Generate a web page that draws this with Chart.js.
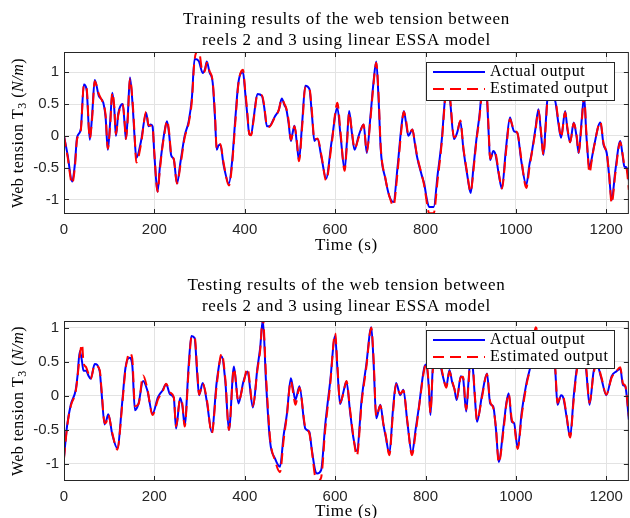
<!DOCTYPE html>
<html>
<head>
<meta charset="utf-8">
<script src="https://cdn.jsdelivr.net/npm/chart.js@4/dist/chart.umd.min.js"></script>
<style>
  body { margin: 0; background: #fff; }
  .panel { position: absolute; left: 0; }
</style>
</head>
<body>
<canvas id="trainChart" class="panel" width="630" height="259" style="top:0"></canvas>
<canvas id="testChart" class="panel" width="630" height="259" style="top:259px"></canvas>
<script>
// Training run: time (s), measured tension and model estimate
var trainTime = [0,8,18,24,29,37,44,50,57,62,68,77,87,92,97,102,107,111,115,120,125,130,134,137,141,146,152,156,160,170,182,187,192,196,200,207,212,217,222,228,233,237,243,250,258,267,276,283,289,298,307,312,316,322,329,334,338,342,346,353,365,372,379,386,396,401,406,410,414,420,428,438,443,449,454,467,475,482,488,492,497,502,506,510,515,520,527,534,543,549,554,558,561,570,580,592,605,612,621,626,631,637,643,652,663,670,678,685,691,696,701,711,720,729,738,746,752,757,762,771,776,781,792,797,803,808,818,827,836,842,847,854,863,870,877,884,892,900,906,913,919,925,931,936,940,943,950,955,962,969,978,987,992,996,1003,1012,1023,1030,1035,1043,1050,1056,1061,1066,1070,1078,1087,1094,1100,1109,1114,1120,1128,1134,1139,1145,1151,1156,1163,1168,1173,1187,1194,1201,1206,1212,1220,1231,1236,1240,1245,1250];
var trainActual = [0.00,-0.30,-0.72,-0.45,-0.02,0.10,0.81,0.73,-0.06,0.30,0.88,0.63,0.52,0.30,-0.22,0.20,0.68,0.45,0.00,0.35,0.47,0.50,0.20,-0.05,0.30,0.92,0.47,0.00,-0.35,-0.10,0.36,0.15,0.18,0.15,-0.30,-0.88,-0.50,-0.20,0.05,0.23,0.00,-0.30,-0.37,-0.75,-0.40,0.00,0.23,0.60,1.21,1.18,0.99,1.05,1.17,1.00,0.84,0.30,-0.22,-0.15,-0.14,-0.45,-0.75,-0.40,0.26,0.84,1.00,0.68,0.30,0.02,0.02,0.30,0.66,0.63,0.45,0.15,0.15,0.31,0.40,0.59,0.48,0.42,0.20,-0.08,0.05,0.16,-0.10,-0.38,0.20,0.79,0.74,0.30,-0.08,-0.05,-0.05,-0.35,-0.67,-0.10,0.44,0.00,-0.53,-0.10,0.39,0.05,-0.22,0.00,0.18,-0.27,0.30,0.85,1.17,0.60,-0.22,-0.67,-0.95,-1.04,-0.50,0.10,0.39,0.20,0.00,0.10,-0.10,-0.32,-0.63,-0.75,-1.00,-1.12,-1.12,-0.60,-0.06,0.50,0.84,0.58,-0.05,0.05,0.23,-0.22,-0.60,-0.90,-0.50,-0.03,0.30,0.70,0.75,0.58,0.00,-0.38,-0.24,-0.30,-0.60,-0.83,-0.20,0.29,0.15,0.07,0.05,-0.40,-0.77,-0.45,-0.27,0.10,0.42,0.00,-0.30,0.20,0.58,0.62,0.55,0.20,-0.03,0.39,0.10,-0.10,0.21,0.00,-0.27,0.20,0.62,0.00,-0.50,-0.35,-0.16,0.21,-0.14,-0.27,-0.60,-1.01,-0.55,-0.08,-0.30,-0.48,-0.50,-0.70];
var trainEstimated = [0.00,-0.33,-0.75,-0.50,-0.05,0.08,0.80,0.75,-0.04,0.25,0.86,0.66,0.50,0.33,-0.20,0.15,0.68,0.48,0.03,0.32,0.45,0.50,0.24,-0.05,0.25,0.90,0.52,0.05,-0.42,-0.15,0.38,0.17,0.16,0.14,-0.28,-0.88,-0.55,-0.22,0.02,0.24,0.04,-0.28,-0.37,-0.75,-0.45,-0.03,0.20,0.55,1.20,1.35,1.00,1.03,1.15,1.02,0.86,0.35,-0.20,-0.16,-0.13,-0.42,-0.78,-0.45,0.20,0.82,1.04,0.72,0.34,0.03,0.01,0.27,0.64,0.64,0.48,0.16,0.14,0.30,0.40,0.58,0.50,0.43,0.24,-0.06,0.03,0.15,-0.06,-0.40,0.14,0.77,0.75,0.35,-0.06,-0.05,-0.04,-0.32,-0.70,-0.15,0.52,0.05,-0.55,-0.15,0.36,0.08,-0.20,-0.03,0.18,-0.25,0.25,0.82,1.15,0.66,-0.18,-0.66,-0.95,-1.10,-0.58,0.05,0.38,0.24,0.02,0.10,-0.08,-0.30,-0.62,-0.78,-1.05,-1.22,-1.22,-0.68,-0.10,0.46,0.84,0.62,-0.02,0.04,0.24,-0.20,-0.58,-0.88,-0.55,-0.06,0.26,0.68,0.78,0.62,0.05,-0.36,-0.26,-0.28,-0.58,-0.83,-0.26,0.26,0.17,0.08,0.05,-0.36,-0.82,-0.50,-0.28,0.06,0.40,0.04,-0.30,0.15,0.56,0.63,0.57,0.24,-0.02,0.37,0.13,-0.10,0.20,0.03,-0.26,0.15,0.62,0.05,-0.58,-0.38,-0.17,0.22,-0.12,-0.27,-0.58,-1.06,-0.60,-0.10,-0.28,-0.46,-0.52,-0.85];

// Test run
var testTime = [0,7,15,26,30,35,40,43,49,54,59,68,79,83,90,94,98,107,118,129,136,145,151,157,165,175,184,196,208,218,226,235,243,248,257,262,267,276,282,289,295,299,307,316,327,338,349,357,365,376,386,397,406,418,428,434,440,447,456,467,478,486,493,502,507,512,521,534,543,548,556,560,569,578,589,600,605,611,618,625,633,640,648,659,669,680,685,691,700,707,712,720,728,735,744,751,760,770,778,785,797,802,807,811,816,822,830,838,846,853,859,864,869,878,883,890,895,899,904,909,914,925,936,943,950,956,962,973,979,984,991,996,1004,1013,1024,1033,1044,1052,1060,1070,1078,1087,1092,1100,1105,1112,1120,1128,1135,1145,1155,1163,1172,1179,1189,1200,1212,1222,1231,1237,1242,1250];
var testActual = [-0.90,-0.43,-0.13,0.09,0.30,0.66,0.50,0.37,0.37,0.30,0.25,0.47,0.36,0.06,-0.42,-0.35,-0.27,-0.57,-0.77,-0.08,0.41,0.56,0.46,-0.21,-0.11,0.22,0.09,-0.26,-0.02,0.08,0.17,0.02,-0.03,-0.48,-0.03,-0.15,-0.43,0.46,0.88,0.85,0.30,0.01,0.19,-0.08,-0.53,0.21,0.58,0.21,-0.50,0.43,-0.11,0.21,0.36,-0.17,0.41,0.70,1.12,0.21,-0.67,-0.92,-1.04,-0.58,-0.28,0.26,0.10,-0.06,0.14,-0.48,-0.53,-0.77,-1.10,-1.14,-1.09,-0.43,0.21,0.88,0.40,-0.12,0.05,0.21,-0.23,-0.60,-0.81,-0.03,0.46,1.01,0.50,-0.33,-0.13,-0.43,-0.60,-0.85,-0.20,0.19,0.01,0.09,-0.40,-0.85,-0.50,-0.18,0.41,0.46,0.15,-0.28,0.41,0.65,0.55,0.30,0.14,0.38,0.20,0.10,-0.06,0.29,0.26,-0.23,0.20,0.51,0.45,0.00,-0.38,0.01,0.33,-0.11,-0.16,-0.50,-0.97,-0.43,-0.10,0.04,-0.38,-0.40,-0.77,-0.23,0.21,0.46,0.95,0.75,0.55,0.80,0.75,0.38,-0.13,0.01,-0.03,-0.30,-0.60,0.00,0.41,0.60,0.41,-0.13,0.36,0.46,0.26,0.01,0.29,0.36,0.40,0.16,0.14,-0.35];
var testEstimated = [-0.92,-0.45,-0.15,0.07,0.28,0.60,0.76,0.50,0.42,0.33,0.25,0.45,0.38,0.10,-0.40,-0.38,-0.28,-0.55,-0.79,-0.12,0.38,0.63,0.55,-0.15,-0.12,0.30,0.12,-0.28,-0.05,0.06,0.18,0.05,-0.02,-0.45,-0.05,-0.12,-0.45,0.40,0.86,0.87,0.35,0.02,0.18,-0.05,-0.55,0.16,0.62,0.25,-0.50,0.40,-0.08,0.18,0.40,-0.15,0.38,0.66,1.15,0.30,-0.62,-0.95,-1.12,-0.65,-0.30,0.22,0.05,-0.13,0.12,-0.46,-0.55,-0.78,-1.20,-1.26,-1.20,-0.50,0.16,0.92,0.45,-0.10,0.03,0.22,-0.20,-0.58,-0.88,-0.08,0.42,1.00,0.56,-0.30,-0.14,-0.42,-0.58,-0.87,-0.25,0.17,0.03,0.08,-0.38,-0.87,-0.55,-0.20,0.38,0.47,0.18,-0.25,0.36,0.62,0.57,0.32,0.12,0.36,0.22,0.10,-0.04,0.27,0.28,-0.20,0.15,0.50,0.47,0.03,-0.36,-0.02,0.32,-0.08,-0.18,-0.48,-0.98,-0.48,-0.12,0.03,-0.35,-0.42,-0.78,-0.28,0.18,0.45,1.01,0.78,0.52,0.78,0.77,0.42,-0.10,0.00,-0.02,-0.28,-0.61,-0.05,0.38,0.60,0.44,-0.10,0.33,0.47,0.28,0.02,0.27,0.36,0.42,0.18,0.15,-0.30];

var xTicks = [0, 200, 400, 600, 800, 1000, 1200];
var yTicks = [-1, -0.5, 0, 0.5, 1];

var serif = '"Liberation Serif", "DejaVu Serif", serif';
var sans = '"Liberation Sans", Arial, sans-serif';
var dash = [11, 6];

function points(xs, ys) {
  return xs.map(function (x, i) { return { x: x, y: ys[i] }; });
}

// MATLAB-like box, inward ticks, titles and an in-axes legend
var framePlugin = {
  id: 'frame',
  afterDatasetsDraw: function (chart, args, opts) {
    var ctx = chart.ctx;
    var lx = 426, ly = opts.legendTop, lw = 188, lh = 38;
    ctx.save();
    ctx.fillStyle = '#fff';
    ctx.fillRect(lx, ly, lw, lh);
    ctx.strokeStyle = '#262626';
    ctx.lineWidth = 1;
    ctx.strokeRect(lx + 0.5, ly + 0.5, lw, lh);

    ctx.lineWidth = 2;
    ctx.strokeStyle = '#0000ff';
    ctx.beginPath();
    ctx.moveTo(lx + 7, ly + 10);
    ctx.lineTo(lx + 59, ly + 10);
    ctx.stroke();

    ctx.strokeStyle = '#ff0000';
    ctx.setLineDash(dash);
    ctx.beginPath();
    ctx.moveTo(lx + 7, ly + 27);
    ctx.lineTo(lx + 59, ly + 27);
    ctx.stroke();
    ctx.setLineDash([]);

    ctx.fillStyle = '#000';
    ctx.font = '16px ' + serif;
    ctx.letterSpacing = '0.6px';
    ctx.textBaseline = 'middle';
    ctx.textAlign = 'left';
    ctx.fillText('Actual output', lx + 64, ly + 10);
    ctx.fillText('Estimated output', lx + 64, ly + 27);
    ctx.restore();
  },
  afterDraw: function (chart, args, opts) {
    var ctx = chart.ctx;
    var a = chart.chartArea;
    var xs = chart.scales.x, ys = chart.scales.y;
    ctx.save();
    ctx.strokeStyle = '#262626';
    ctx.lineWidth = 1;
    ctx.strokeRect(a.left + 0.5, a.top + 0.5, a.right - a.left - 1, a.bottom - a.top - 1);

    ctx.beginPath();
    xTicks.forEach(function (v) {
      var px = Math.round(xs.getPixelForValue(v)) + 0.5;
      ctx.moveTo(px, a.bottom); ctx.lineTo(px, a.bottom - 5);
      ctx.moveTo(px, a.top); ctx.lineTo(px, a.top + 5);
    });
    yTicks.forEach(function (v) {
      var py = Math.round(ys.getPixelForValue(v)) + 0.5;
      ctx.moveTo(a.left, py); ctx.lineTo(a.left + 5, py);
      ctx.moveTo(a.right, py); ctx.lineTo(a.right - 5, py);
    });
    ctx.stroke();

    var cx = (a.left + a.right) / 2;
    ctx.fillStyle = '#000';
    ctx.textAlign = 'center';
    ctx.textBaseline = 'middle';
    ctx.font = '17px ' + serif;
    ctx.letterSpacing = '0.7px';
    ctx.fillText(opts.title[0], cx, opts.titleY);
    ctx.fillText(opts.title[1], cx, opts.titleY + 21);
    ctx.fillText('Time (s)', cx, opts.xLabelY);

    // y label: Web tension T3 (N/m), rotated
    ctx.letterSpacing = '0.5px';
    var parts = [
      { t: 'Web tension T', f: '16px ' + serif, dy: 0 },
      { t: '3', f: '12px ' + serif, dy: 4 },
      { t: ' (', f: '16px ' + serif, dy: 0 },
      { t: 'N/m', f: 'italic 16px ' + serif, dy: 0 },
      { t: ')', f: '16px ' + serif, dy: 0 }
    ];
    var total = 0;
    parts.forEach(function (p) { ctx.font = p.f; p.w = ctx.measureText(p.t).width; total += p.w; });
    ctx.translate(19, (a.top + a.bottom) / 2);
    ctx.rotate(-Math.PI / 2);
    ctx.textAlign = 'left';
    var x = -total / 2;
    parts.forEach(function (p) {
      ctx.font = p.f;
      ctx.fillText(p.t, x, p.dy);
      x += p.w;
    });
    ctx.restore();
  }
};

function makeChart(id, times, actual, estimated, cfg) {
  var ctx = document.getElementById(id).getContext('2d');
  return new Chart(ctx, {
    type: 'line',
    data: {
      datasets: [
        {
          label: 'Actual output',
          data: points(times, actual),
          borderColor: '#0000ff',
          borderWidth: 2,
          pointRadius: 0,
          cubicInterpolationMode: 'monotone',
          fill: false,
          order: 1,
        },
        {
          label: 'Estimated output',
          data: points(times, estimated),
          borderColor: '#ff0000',
          borderWidth: 2,
          borderDash: dash,
          pointRadius: 0,
          cubicInterpolationMode: 'monotone',
          fill: false,
          order: 0,
        }
      ]
    },
    options: {
      responsive: false,
      animation: false,
      layout: { padding: { top: cfg.top, right: 1, left: 0, bottom: 0 } },
      plugins: {
        legend: { display: false },
        tooltip: { enabled: false },
        frame: cfg
      },
      scales: {
        x: {
          type: 'linear',
          min: 0,
          max: 1250,
          afterBuildTicks: function (s) { s.ticks = xTicks.map(function (v) { return { value: v }; }); },
          afterFit: function (s) { s.height = cfg.xHeight; },
          ticks: {
            font: { family: sans, size: 15 },
            color: '#262626',
            padding: 7,
            maxRotation: 0,
            callback: function (v) { return String(v); }
          },
          grid: { color: '#e3e3e3', drawTicks: false },
          border: { display: false }
        },
        y: {
          min: cfg.yMin,
          max: cfg.yMax,
          afterBuildTicks: function (s) { s.ticks = yTicks.map(function (v) { return { value: v }; }); },
          afterFit: function (s) { s.width = 64; },
          ticks: {
            font: { family: sans, size: 15 },
            color: '#262626',
            padding: 5,
            callback: function (v) { return String(v); }
          },
          grid: { color: '#e3e3e3', drawTicks: false },
          border: { display: false }
        }
      }
    },
    plugins: [framePlugin]
  });
}

makeChart('trainChart', trainTime, trainActual, trainEstimated, {
  top: 52, xHeight: 45, yMin: -1.23, yMax: 1.32,
  title: ['Training results of the web tension between', 'reels 2 and 3 using linear ESSA model'],
  titleY: 20, xLabelY: 246, legendTop: 62
});

makeChart('testChart', testTime, testActual, testEstimated, {
  top: 62, xHeight: 37, yMin: -1.25, yMax: 1.10,
  title: ['Testing results of the web tension between', 'reels 2 and 3 using linear ESSA model'],
  titleY: 27, xLabelY: 253, legendTop: 71
});
</script>
</body>
</html>
